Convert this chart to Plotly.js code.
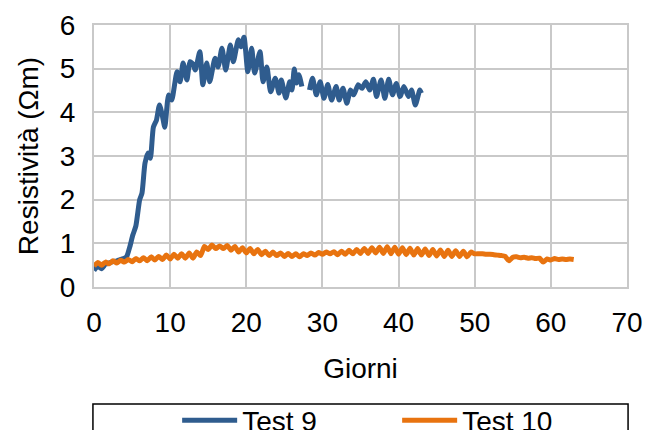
<!DOCTYPE html>
<html><head><meta charset="utf-8">
<script src="https://cdn.plot.ly/plotly-3.0.1.min.js"></script>
<style>html,body{margin:0;padding:0;background:#fff;}#chart{width:646px;height:430px;}</style>
</head><body><div id="chart"></div>
<script>
// Test 9 (days, resistivity in Ωm) — null marks the gap in the record
const test9Days = [0,0.5,1.0,1.5,2.0,2.5,3.0,3.5,4.0,4.3,4.7,5.1,5.5,6.0,6.3,6.7,7.1,7.4,7.8,8.2,8.6,9.0,9.3,9.8,10.2,10.9,11.3,11.7,12.2,12.6,13.0,13.3,13.9,14.3,14.8,15.2,15.9,16.3,16.8,17.3,17.9,18.3,18.95,19.3,19.7,20.2,20.7,21.1,21.8,22.2,22.7,23.2,23.8,24.3,24.6,25.2,25.7,26.0,26.3,26.6,26.9,27.3,27.7,28.3,28.7,29.2,29.7,30.2,30.7,31.2,31.8,32.2,32.7,33.2,33.7,34.1,34.7,35.2,35.7,36.2,36.7,37.1,37.7,38.2,38.7,39.2,39.7,40.2,40.7,41.3,41.7,42.2,42.8,43.0];
const test9Values = [0.38,0.47,0.42,0.52,0.55,0.58,0.60,0.63,0.66,0.70,0.92,1.19,1.40,2.00,2.15,2.84,3.07,2.95,3.66,3.82,4.17,3.90,3.66,4.40,4.28,4.93,4.70,5.13,4.74,5.16,5.10,4.97,5.39,4.63,5.13,4.70,5.24,5.04,5.47,4.97,5.54,5.16,5.66,5.50,5.72,4.93,5.47,4.90,5.39,4.70,5.04,4.47,4.78,4.44,4.74,4.33,4.70,4.51,4.99,4.67,4.86,4.59,null,4.51,4.78,4.40,4.70,4.32,4.64,4.28,4.59,4.28,4.55,4.21,4.51,4.40,4.63,4.55,4.70,4.51,4.76,4.36,4.74,4.32,4.76,4.40,4.66,4.36,4.59,4.36,4.51,4.17,4.51,4.44];

// Test 10, one reading every half day from day 0 to day 63
const test10Days = [0,0.5,1,1.5,2,2.5,3,3.5,4,4.5,5,5.5,6,6.5,7,7.5,8,8.5,9,9.5,10,10.5,11,11.5,12,12.5,13,13.5,14,14.5,15,15.5,16,16.5,17,17.5,18,18.5,19,19.5,20,20.5,21,21.5,22,22.5,23,23.5,24,24.5,25,25.5,26,26.5,27,27.5,28,28.5,29,29.5,30,30.5,31,31.5,32,32.5,33,33.5,34,34.5,35,35.5,36,36.5,37,37.5,38,38.5,39,39.5,40,40.5,41,41.5,42,42.5,43,43.5,44,44.5,45,45.5,46,46.5,47,47.5,48,48.5,49,49.5,50,50.5,51,51.5,52,52.5,53,53.5,54,54.5,55,55.5,56,56.5,57,57.5,58,58.5,59,59.5,60,60.5,61,61.5,62,62.5,63];
const test10Values = [0.48,0.56,0.50,0.57,0.53,0.60,0.55,0.61,0.57,0.63,0.58,0.65,0.60,0.67,0.60,0.69,0.62,0.70,0.63,0.73,0.64,0.75,0.66,0.76,0.66,0.78,0.66,0.80,0.72,0.93,0.86,0.96,0.88,0.94,0.88,0.95,0.84,0.93,0.80,0.90,0.78,0.88,0.76,0.86,0.74,0.82,0.72,0.80,0.72,0.78,0.70,0.77,0.70,0.76,0.69,0.76,0.72,0.78,0.73,0.79,0.75,0.80,0.76,0.81,0.74,0.82,0.75,0.84,0.76,0.86,0.77,0.88,0.77,0.90,0.78,0.91,0.77,0.92,0.76,0.91,0.75,0.90,0.74,0.89,0.73,0.88,0.73,0.87,0.72,0.86,0.71,0.85,0.70,0.84,0.70,0.83,0.70,0.82,0.69,0.80,0.76,0.76,0.76,0.75,0.75,0.74,0.73,0.72,0.70,0.60,0.68,0.69,0.67,0.68,0.66,0.67,0.65,0.66,0.57,0.64,0.62,0.65,0.63,0.64,0.63,0.64,0.63];

const seriesNames = ["Test 9", "Test 10"];
const xTickVals = [0,10,20,30,40,50,60,70];
const yTickVals = [0,1,2,3,4,5,6];

const FONT = "Liberation Sans, Arial, sans-serif";
const grid = "#c9c9c9";

const traces = [
  {x: test9Days, y: test9Values, name: seriesNames[0], type: "scatter", mode: "lines",
   connectgaps: false, line: {color: "#2f5c8e", width: 5, shape: "spline", smoothing: 0.6}},
  {x: test10Days, y: test10Values, name: seriesNames[1], type: "scatter", mode: "lines",
   line: {color: "#e8730f", width: 5, shape: "spline", smoothing: 0.6}}
];

const layout = {
  width: 646, height: 430,
  margin: {l: 94, r: 19, t: 25, b: 143, autoexpand: false},
  paper_bgcolor: "#fff", plot_bgcolor: "#fff",
  font: {family: FONT, size: 28, color: "#000"},
  showlegend: true,
  legend: {orientation: "h", x: 0.156, xanchor: "left", y: -0.414, yanchor: "top",
    font: {family: FONT, size: 28, color: "#000"}, entrywidth: 150, itemwidth: 55,
    bgcolor: "rgba(0,0,0,0)", borderwidth: 0},
  xaxis: {range: [0, 70], tickvals: xTickVals, ticktext: xTickVals.map(String),
    showgrid: true, gridcolor: grid, gridwidth: 2, zeroline: false, automargin: false,
    showline: true, linecolor: grid, linewidth: 2, mirror: true, ticks: "",
    ticklabelstandoff: 9, tickfont: {family: FONT, size: 28, color: "#000"},
    title: {text: "Giorni", font: {family: FONT, size: 28, color: "#000"}, standoff: 22}},
  yaxis: {range: [0, 6], tickvals: yTickVals, ticktext: yTickVals.map(String),
    showgrid: true, gridcolor: grid, gridwidth: 2, zeroline: false, automargin: false,
    showline: true, linecolor: grid, linewidth: 2, mirror: true, ticks: "",
    ticklabelstandoff: 11, tickfont: {family: FONT, size: 28, color: "#000"},
    title: {text: "Resistività (Ωm)", font: {family: FONT, size: 28, color: "#000"}, standoff: 13}},
  shapes: [{type: "rect", xref: "paper", yref: "paper",
    x0: -0.002, x1: 1.002, y0: -0.447, y1: -0.75,
    line: {color: "#000", width: 1.5}, fillcolor: "rgba(0,0,0,0)", layer: "above"}]
};

Plotly.newPlot("chart", traces, layout, {displayModeBar: false, staticPlot: true});
</script></body></html>
